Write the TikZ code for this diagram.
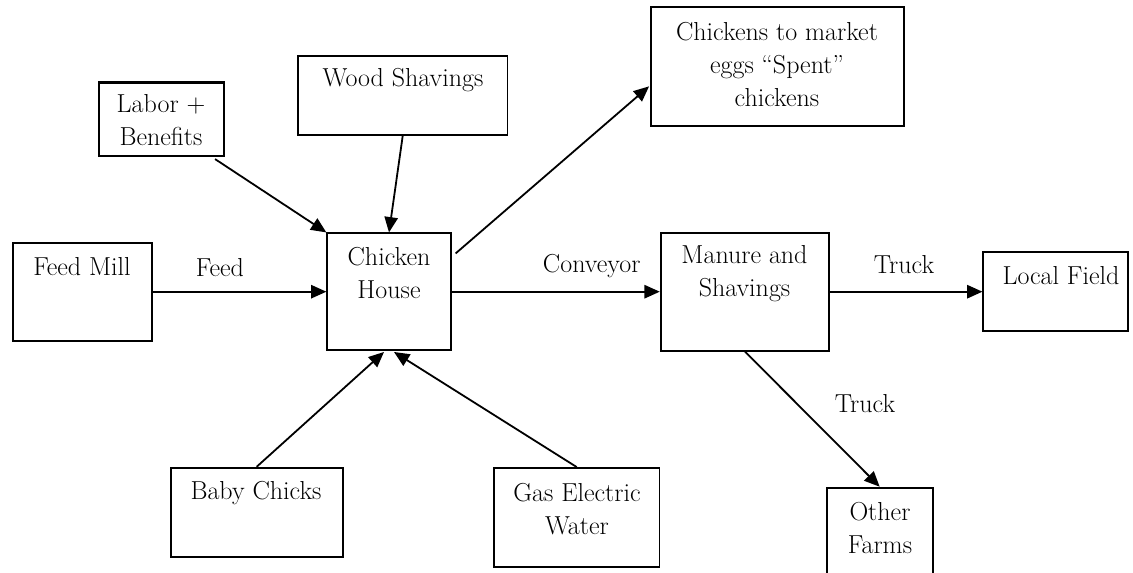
\documentclass[tikz,border=0pt]{standalone}
\usetikzlibrary{arrows.meta,calc}
\begin{document}
\begin{tikzpicture}[x=0.75pt,y=-0.75pt]
\tikzset{
  box/.style={draw,line width=1.4pt,inner sep=0pt,rectangle},
  txt/.style={align=center,inner sep=0pt,font=\fontsize{19.5}{24.75}\selectfont},
  arr/.style={line width=1.35pt,-{Triangle[length=11.5pt,width=10pt]}}
}
\useasboundingbox (0,0) rectangle (1133,573);
\fill[white] (0,0) rectangle (1133,573);

% boxes
\node[box,line width=1.7pt,minimum width=94pt,minimum height=55pt] (lab) at (161.3,119.3) {};
\node[box,minimum width=157.1pt,minimum height=59.25pt] (wood) at (402.7,95.5) {};
\node[box,minimum width=104pt,minimum height=73.5pt] (feed) at (82.7,291.7) {};
\node[box,minimum width=92.55pt,minimum height=87.5pt] (ch) at (389,291.7) {};
\node[box,minimum width=189.75pt,minimum height=88.8pt] (mkt) at (777.5,66.5) {};
\node[box,minimum width=126.45pt,minimum height=88.5pt] (man) at (745,291.7) {};
\node[box,minimum width=108.5pt,minimum height=59pt] (loc) at (1055.7,291.7) {};
\node[box,minimum width=129pt,minimum height=66.75pt] (baby) at (256.7,512.2) {};
\node[box,minimum width=124.1pt,minimum height=74.25pt] (gas) at (576.7,517.5) {};
\node[box,minimum width=79.5pt,minimum height=76.7pt] (oth) at (879.7,538.8) {};

% box texts
\node[txt] (labT) at (161,120) {Labor +\\Benefits};
\node[txt] (woodT) at (403,80) {Wood Shavings};
\node[txt] (feedT) at (82,266.7) {Feed Mill};
\node[txt] (chT) at (389,273.3) {Chicken\\House};
\node[txt] (mktT) at (777,65) {Chickens to market\\eggs ``Spent''\\chickens};
\node[txt] (manT) at (744.5,273.3) {Manure and\\Shavings};
\node[txt] (locT) at (1061,276) {Local Field};
\node[txt] (babyT) at (256,493.3) {Baby Chicks};
\node[txt] (gasT) at (577,509.2) {Gas Electric\\Water};
\node[txt] (othT) at (880,528) {Other\\Farms};

% connector labels
\node[txt] (feedL) at (220,268) {Feed};
\node[txt] (convL) at (591.7,265.7) {Conveyor};
\node[txt] (truckA) at (904,265) {Truck};
\node[txt] (truckB) at (865,403.3) {Truck};

% connectors
\draw[arr] (feed.east) -- (ch.west);
\draw[arr] (ch.east) -- (man.west);
\draw[arr] (man.east) -- (loc.west);
\draw[arr] ($(lab.south east)+(-10,2)$) -- (ch.north west);
\draw[arr] (wood.south) -- (ch.north);
\draw[arr] (baby.north) -- ($(ch.south)+(-5,1)$);
\draw[arr] (gas.north) -- ($(ch.south)+(5,1)$);
\draw[arr] ($(ch.north east)+(4,21)$) -- ($(mkt.north west)+(-1,80)$);
\draw[arr] (man.south) -- (oth.north);
\end{tikzpicture}
\end{document}
